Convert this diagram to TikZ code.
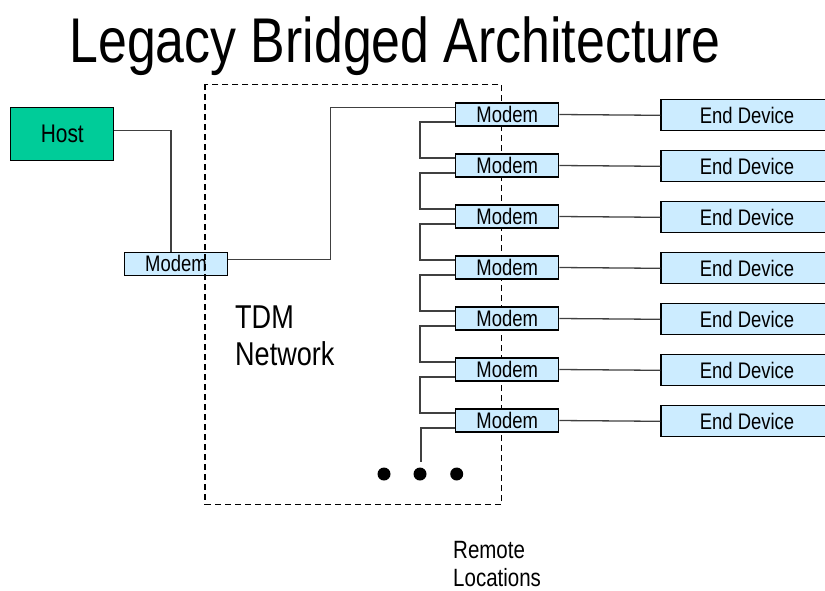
\documentclass[tikz,border=0pt]{standalone}
\usepackage{fontspec}
\setmainfont{Liberation Sans}[FakeStretch=0.82]
\definecolor{hostgreen}{HTML}{00CC99}
\definecolor{modemblue}{HTML}{CCECFF}
\definecolor{linegray}{HTML}{404040}
\tikzset{
  box/.style={draw=black, line width=1.3pt, inner sep=0pt, align=center},
  modembox/.style={box, fill=modemblue, minimum width=103pt, minimum height=23pt, font=\fontsize{22.5}{24}\selectfont},
  devbox/.style={box, fill=modemblue, minimum width=172pt, minimum height=31pt, font=\fontsize{22.5}{24}\selectfont},
  hostbox/.style={box, fill=hostgreen, minimum width=103pt, minimum height=53pt, font=\fontsize{25.5}{28}\selectfont},
  conn/.style={draw=linegray, line width=1.3pt},
  dot/.style={circle, fill=black, minimum size=13pt, inner sep=0pt},
  lbl/.style={inner sep=0pt, align=left, anchor=base west}
}
\begin{document}
\begin{tikzpicture}[x=1pt,y=-1pt]
\useasboundingbox (0,0) rectangle (825,590);
% title
\node[inner sep=0pt, anchor=base, font=\fontsize{63.2}{70}\selectfont] (title) at (395,62) {Legacy Bridged Architecture};
% host side
\node[hostbox] (host) at (62.3,133.8) {Host};
\node[modembox] (lm) at (176,263.8) {Modem};
% TDM network cloud (dashed box)
\draw[black, line width=1.4pt, dash pattern=on 6pt off 4pt] (205,84.3) rectangle (501.7,504.3);
% remote modems and end devices
\foreach \i in {1,...,7}{
  \node[modembox] (m\i) at (507.2,{114.5+51*(\i-1)}) {Modem};
  \node[devbox] (e\i) at (747,{115.3+51*(\i-1)}) {End Device};
}
% connectors
\draw[conn] ([yshift=3pt]host.east) -| ([xshift=-5pt]lm.north);
\draw[conn] ([yshift=4pt]lm.east) -- ++(102,0) |- ([yshift=7pt]m1.west);
\foreach \i/\j in {1/2,2/3,3/4,4/5,5/6,6/7}{
  \draw[conn] ([yshift=-7.5pt]m\i.west) -- ++(-35,0) |- ([yshift=7.5pt]m\j.west);
}
\coordinate (tail) at (421,462);
\draw[conn] ([yshift=-7.5pt]m7.west) -| (tail);
\foreach \i in {1,...,7}{
  \draw[conn] (m\i.east) -- (e\i.west);
}
% dots
\node[dot] (d1) at (384,474) {};
\node[dot] (d2) at (420,474) {};
\node[dot] (d3) at (456.7,474) {};
% labels
\node[lbl, font=\fontsize{33}{37}\selectfont] (tdm) at (235,365) {TDM\\Network};
\node[lbl, font=\fontsize{25}{28}\selectfont] (remote) at (453,586.5) {Remote\\Locations};
\end{tikzpicture}
\end{document}
